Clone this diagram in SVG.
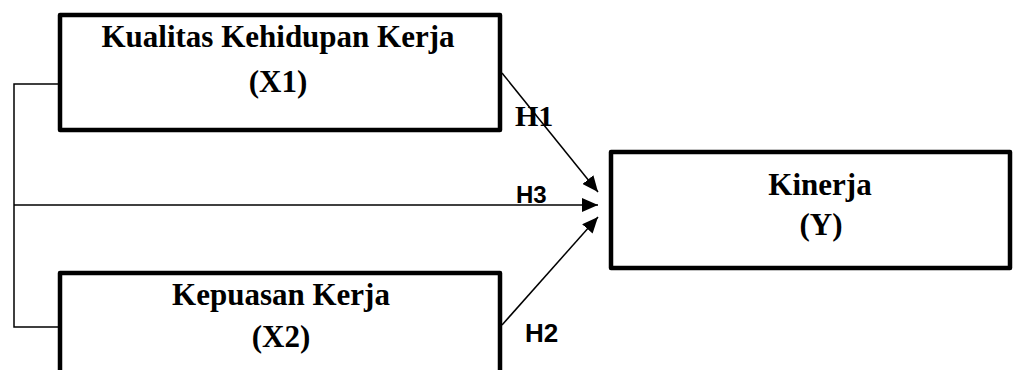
<svg xmlns="http://www.w3.org/2000/svg" width="1019" height="370" viewBox="0 0 1019 370">
<style>
.box{fill:#fff;stroke:#000;stroke-width:4.5;stroke-linejoin:round}
.t{font-family:"Liberation Serif","Times New Roman",serif;font-weight:bold;font-size:31px;fill:#000;text-anchor:middle}
.lab{font-family:"Liberation Serif","Times New Roman",serif;font-weight:bold;font-size:30px;fill:#000}
.labs{font-family:"Liberation Sans",Arial,sans-serif;font-weight:bold;fill:#000}
.ln{fill:none;stroke:#000;stroke-width:1.5}
</style>
<defs>
<marker id="arr" markerUnits="userSpaceOnUse" markerWidth="18" markerHeight="14" refX="16" refY="7" orient="auto">
<path d="M0,0 L16,7 L0,14 Z" fill="#000"/>
</marker>
</defs>
<g id="connectors">
<polyline class="ln" points="60,84 14,84 14,327 60,327"/>
<line class="ln" x1="14" y1="205" x2="598" y2="205" marker-end="url(#arr)"/>
<line class="ln" x1="502" y1="73" x2="598" y2="192" marker-end="url(#arr)"/>
<line class="ln" x1="502" y1="325" x2="598" y2="217" marker-end="url(#arr)"/>
</g>
<g id="node-x1">
<rect class="box" x="60" y="15" width="440" height="115"/>
<text class="t" x="278" y="47">Kualitas Kehidupan Kerja</text>
<text class="t" x="278" y="92">(X1)</text>
</g>
<g id="node-x2">
<rect class="box" x="60" y="273" width="440" height="120"/>
<text class="t" x="281" y="305">Kepuasan Kerja</text>
<text class="t" x="281" y="347">(X2)</text>
</g>
<g id="node-y">
<rect class="box" x="611" y="152" width="399" height="116"/>
<text class="t" x="820" y="195">Kinerja</text>
<text class="t" x="821" y="235">(Y)</text>
</g>
<g id="labels">
<text class="lab" x="515" y="126">H1</text>
<text class="labs" x="516" y="203" font-size="24">H3</text>
<text class="labs" x="525" y="342" font-size="26">H2</text>
</g>
</svg>
